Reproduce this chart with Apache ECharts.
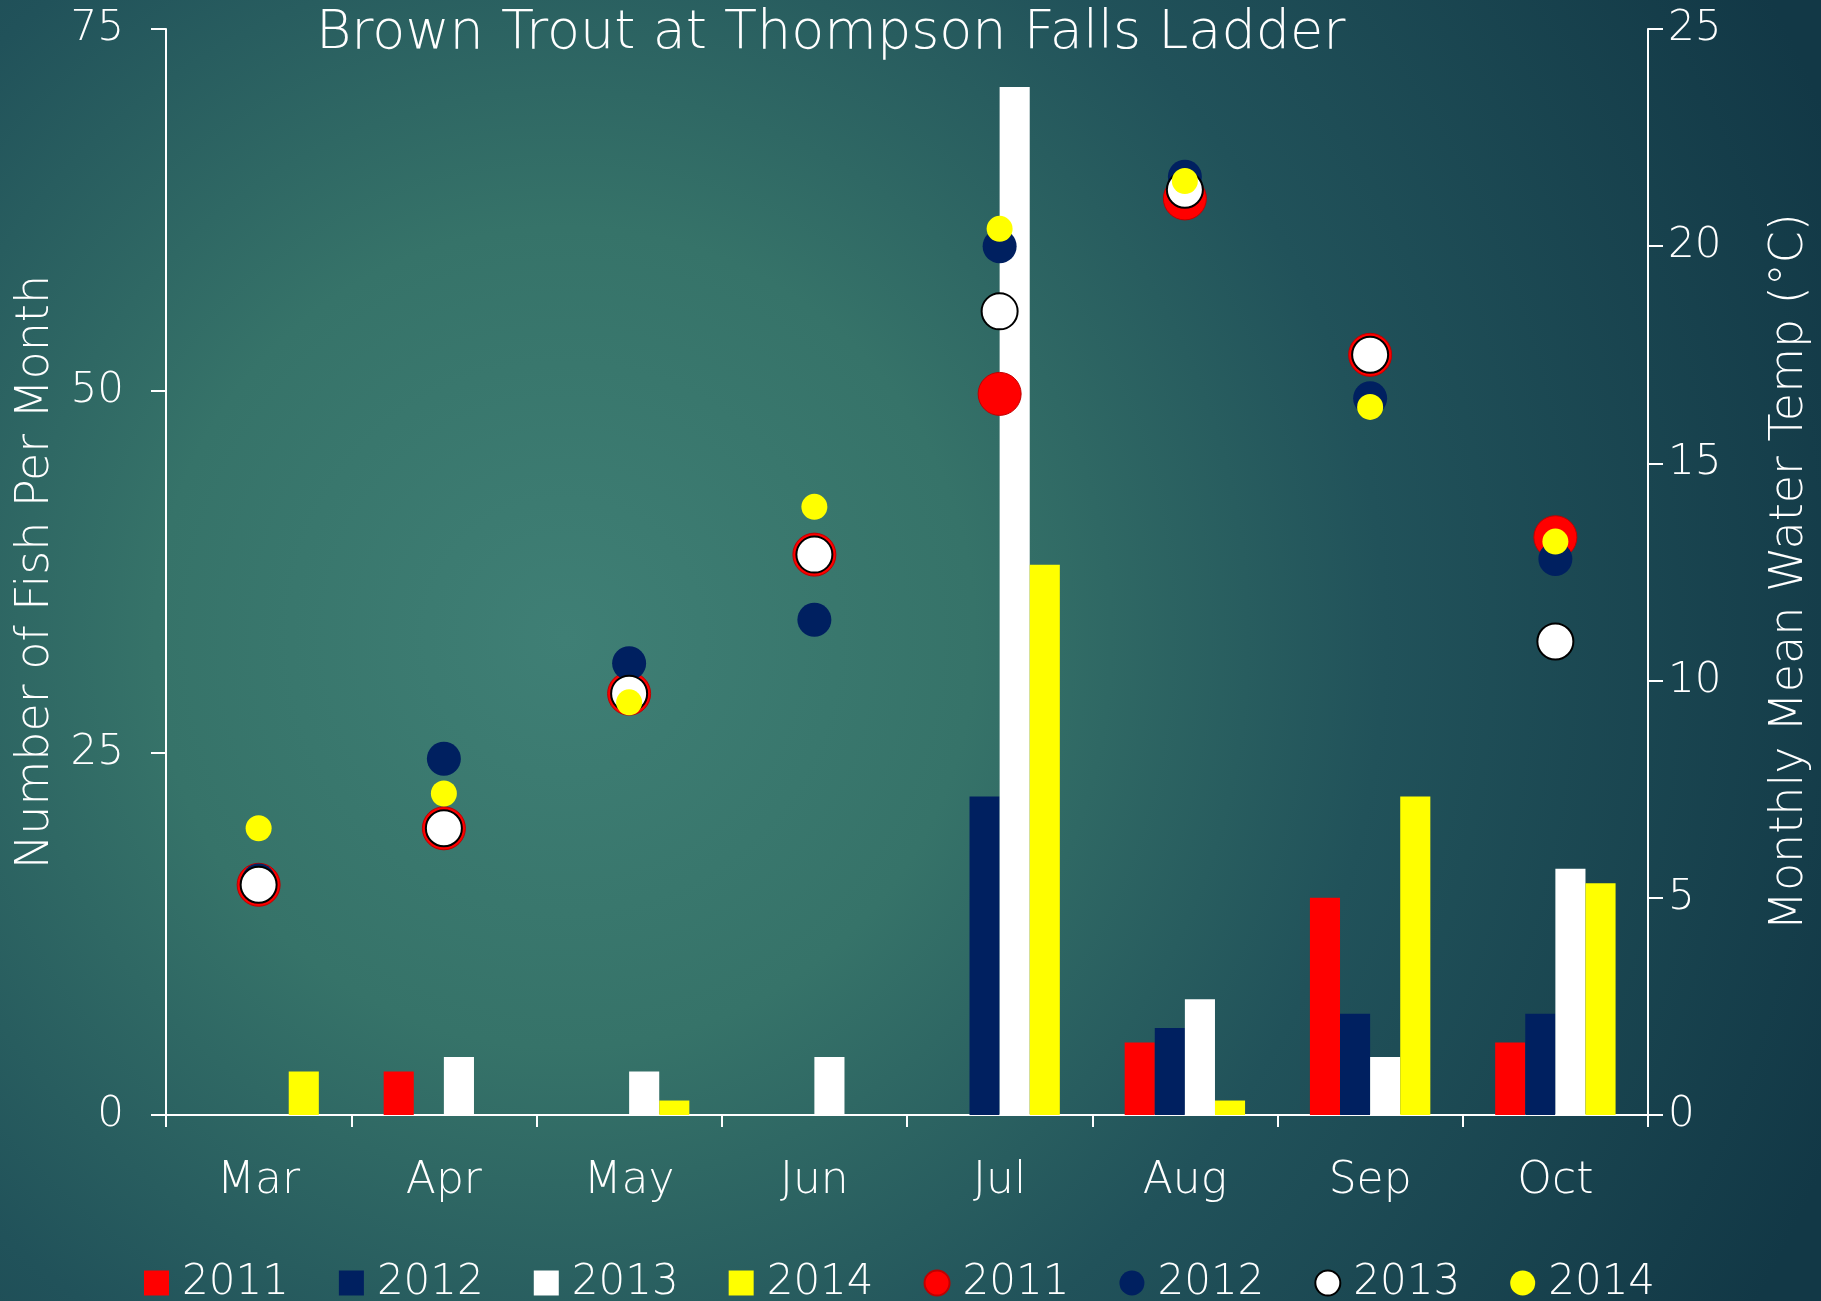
<!DOCTYPE html>
<html>
<head>
<meta charset="utf-8">
<script src="https://cdn.jsdelivr.net/npm/echarts@6/dist/echarts.min.js"></script>
<style>
  html, body { margin: 0; padding: 0; }
  #main { width: 1821px; height: 1301px; }
</style>
</head>
<body>
<div id="main"></div>
<script>
// months on x axis
var months = ['Mar', 'Apr', 'May', 'Jun', 'Jul', 'Aug', 'Sep', 'Oct'];
var years = ['2011', '2012', '2013', '2014'];

// fish counts per month (bars, left axis)
var fish2011 = [0, 3, 0, 0, 0, 5, 15, 5];
var fish2012 = [0, 0, 0, 0, 22, 6, 7, 7];
var fish2013 = [0, 4, 3, 4, 71, 8, 4, 17];
var fish2014 = [3, 0, 1, 0, 38, 1, 22, 16];

// monthly mean water temp (dots, right axis)
var temp2011 = [5.3, 6.6, 9.7, 12.9, 16.6, 21.1, 17.5, 13.3];
var temp2012 = [5.4, 8.2, 10.4, 11.4, 20.0, 21.6, 16.5, 12.8];
var temp2013 = [5.3, 6.6, 9.7, 12.9, 18.5, 21.3, 17.5, 10.9];
var temp2014 = [6.6, 7.4, 9.5, 14.0, 20.4, 21.5, 16.3, 13.2];

var fishTicks = [0, 25, 50, 75];
var tempTicks = [0, 5, 10, 15, 20, 25];

var colors = ['#FF0000', '#002060', '#FFFFFF', '#FFFF00'];
var fishData = [fish2011, fish2012, fish2013, fish2014];
var tempData = [temp2011, temp2012, temp2013, temp2014];
var dotSize = [43, 34, 36, 26];

var font = "'DejaVu Sans', sans-serif";
var txt = { color: '#FFFFFF', fontFamily: font, fontWeight: 200 };

var series = [];
years.forEach(function (y, i) {
  series.push({
    name: 'Fish ' + y,
    type: 'bar',
    data: fishData[i],
    barGap: 0,
    barCategoryGap: '35%',
    itemStyle: { color: colors[i] }
  });
});
years.forEach(function (y, i) {
  var st = { color: colors[i], opacity: 1 };
  if (i === 0) { st.borderColor = '#C00000'; st.borderWidth = 1; }
  if (i === 2) { st.borderColor = '#000000'; st.borderWidth = 2; }
  series.push({
    name: 'Temp ' + y,
    type: 'scatter',
    yAxisIndex: 1,
    symbol: 'circle',
    symbolSize: dotSize[i],
    data: tempData[i],
    itemStyle: st,
    z: 3 + i
  });
});

var axisLine = { show: true, lineStyle: { color: '#FFFFFF', width: 2 } };

var myChart = echarts.init(document.getElementById('main'));
myChart.setOption({
  backgroundColor: new echarts.graphic.RadialGradient(0.31, 0.49, 1.05, [
    { offset: 0, color: '#3F7F75' },
    { offset: 0.3, color: '#367369' },
    { offset: 0.6, color: '#21525A' },
    { offset: 1, color: '#123846' }
  ]),
  animation: false,
  title: {
    text: 'Brown Trout at Thompson Falls Ladder',
    left: 311,
    top: 2,
    textStyle: Object.assign({ fontSize: 54 }, txt)
  },
  legend: {
    left: 139,
    bottom: -8,
    itemWidth: 25,
    itemHeight: 25,
    itemGap: 50,
    textStyle: Object.assign({ fontSize: 42, padding: [0, 0, 0, 8] }, txt),
    formatter: function (n) { return n.split(' ')[1]; },
    data: series.map(function (s) {
      return { name: s.name, icon: s.type === 'bar' ? 'rect' : 'circle' };
    })
  },
  grid: { left: 166, right: 172, top: 29, bottom: 186 },
  xAxis: {
    type: 'category',
    data: months,
    axisLine: axisLine,
    axisTick: { show: true, length: 12, lineStyle: { color: '#FFFFFF', width: 2 } },
    axisLabel: Object.assign({ fontSize: 44, margin: 45 }, txt)
  },
  yAxis: [{
    type: 'value',
    min: fishTicks[0],
    max: fishTicks[fishTicks.length - 1],
    interval: 25,
    name: 'Number of Fish Per Month',
    nameLocation: 'middle',
    nameRotate: 90,
    nameGap: 107,
    nameTextStyle: Object.assign({ fontSize: 46 }, txt),
    axisLine: axisLine,
    axisTick: { show: true, length: 15, lineStyle: { color: '#FFFFFF', width: 2 } },
    axisLabel: Object.assign({ fontSize: 42, margin: 42 }, txt),
    splitLine: { show: false }
  }, {
    type: 'value',
    min: tempTicks[0],
    max: tempTicks[tempTicks.length - 1],
    interval: 5,
    name: 'Monthly Mean Water Temp (°C)',
    nameLocation: 'middle',
    nameRotate: 90,
    nameGap: 119,
    nameTextStyle: Object.assign({ fontSize: 46 }, txt),
    axisLine: axisLine,
    axisTick: { show: true, length: 15, lineStyle: { color: '#FFFFFF', width: 2 } },
    axisLabel: Object.assign({ fontSize: 42, margin: 20 }, txt),
    splitLine: { show: false }
  }],
  series: series
});
</script>
</body>
</html>
